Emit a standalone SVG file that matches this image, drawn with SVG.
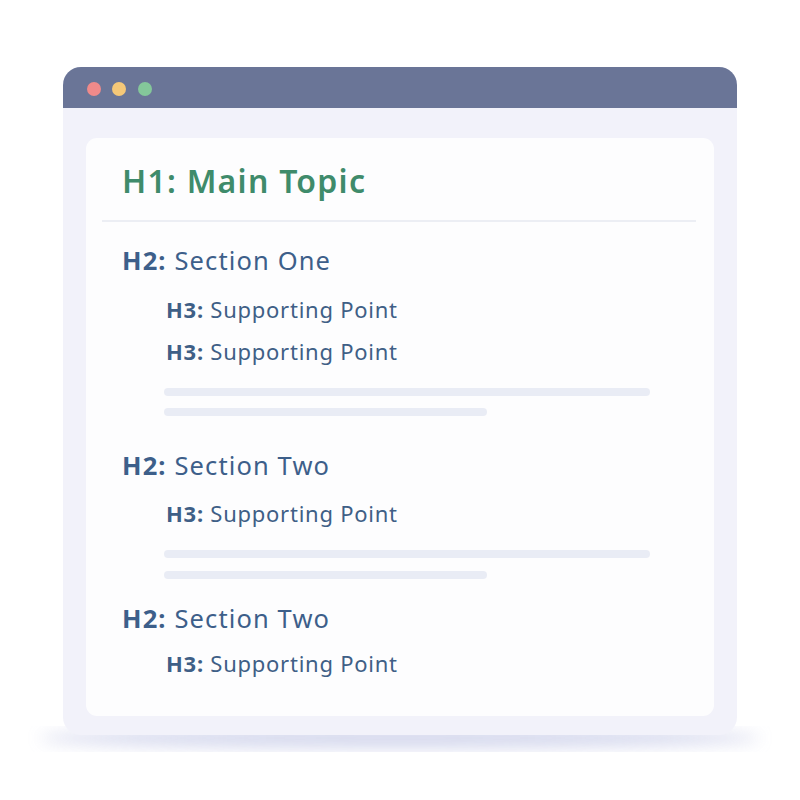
<svg xmlns="http://www.w3.org/2000/svg" width="800" height="800" viewBox="0 0 800 800">
<defs>
<filter id="sh" x="-10%" y="-10%" width="120%" height="130%">
<feGaussianBlur stdDeviation="8"/>
</filter>
<clipPath id="win"><rect x="63" y="67" width="674" height="668" rx="18"/></clipPath>
<style>
text{font-family:"Noto Sans","Open Sans","DejaVu Sans",sans-serif;}
.h1{font-size:32px;font-weight:600;fill:#3f8b6b;}
.h2{font-size:25.5px;fill:#3d5f8a;}
.h3{font-size:22px;fill:#3f5f86;}
.b{font-weight:700;}
.bar{fill:#e9ecf5;}
</style>
</defs>
<rect width="800" height="800" fill="#ffffff"/>
<ellipse cx="400" cy="738" rx="360" ry="10" fill="#c9cde8" filter="url(#sh)" opacity="0.8"/>
<g id="window">
<rect x="63" y="67" width="674" height="668" rx="18" fill="#f2f2fa"/>
<rect x="63" y="67" width="674" height="41" fill="#6a7597" clip-path="url(#win)"/>
<circle cx="94" cy="89" r="7" fill="#ef8a8a"/>
<circle cx="119" cy="89" r="7" fill="#f5c878"/>
<circle cx="145" cy="89" r="7" fill="#84c79a"/>
<rect x="86" y="138" width="628" height="578" rx="11" fill="#fdfdfe"/>
</g>
<g id="h1">
<text class="h1" x="122" y="193" textLength="243" lengthAdjust="spacing">H1: Main Topic</text>
<line x1="102" y1="221" x2="696" y2="221" stroke="#e6e8f1" stroke-width="1.5"/>
</g>
<g id="s1">
<text class="h2" x="122" y="270" textLength="208" lengthAdjust="spacing"><tspan class="b">H2:</tspan> Section One</text>
<text class="h3" x="166" y="318" textLength="231" lengthAdjust="spacing"><tspan class="b">H3:</tspan> Supporting Point</text>
<text class="h3" x="166" y="360" textLength="231" lengthAdjust="spacing"><tspan class="b">H3:</tspan> Supporting Point</text>
<rect class="bar" x="164" y="388" width="486" height="8" rx="4"/>
<rect class="bar" x="164" y="408" width="323" height="8" rx="4"/>
</g>
<g id="s2">
<text class="h2" x="122" y="475" textLength="207" lengthAdjust="spacing"><tspan class="b">H2:</tspan> Section Two</text>
<text class="h3" x="166" y="522" textLength="231" lengthAdjust="spacing"><tspan class="b">H3:</tspan> Supporting Point</text>
<rect class="bar" x="164" y="550" width="486" height="8" rx="4"/>
<rect class="bar" x="164" y="571" width="323" height="8" rx="4"/>
</g>
<g id="s3">
<text class="h2" x="122" y="628" textLength="207" lengthAdjust="spacing"><tspan class="b">H2:</tspan> Section Two</text>
<text class="h3" x="166" y="672" textLength="231" lengthAdjust="spacing"><tspan class="b">H3:</tspan> Supporting Point</text>
</g>
<g id="connectors"></g>
</svg>
